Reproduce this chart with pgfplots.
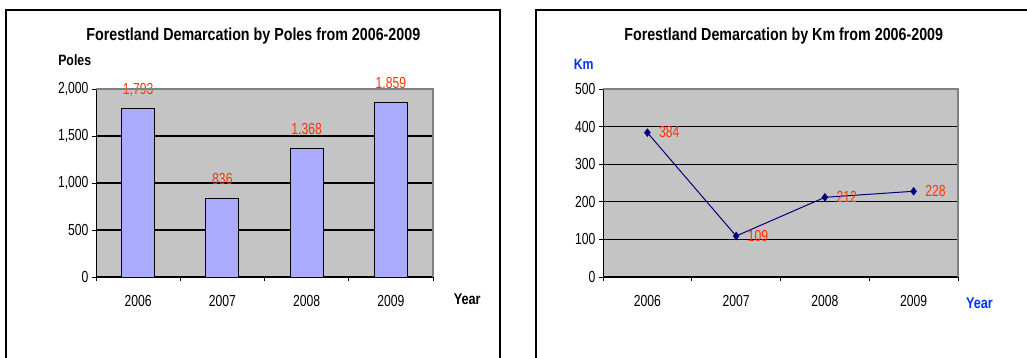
\documentclass[border=0pt]{standalone}
\usepackage{fontspec}
\setmainfont{Liberation Sans}[FakeStretch=0.82]
\newfontfamily\narrowfont{Liberation Sans}[FakeStretch=0.76]
\usepackage{pgfplots}
\pgfplotsset{compat=1.18}
\definecolor{plotgray}{HTML}{C4C4C4}
\definecolor{bordergray}{HTML}{808080}
\definecolor{barblue}{HTML}{AAAAFF}
\definecolor{lblred}{HTML}{FF3300}
\definecolor{navyline}{HTML}{000080}
\definecolor{lblblue}{HTML}{0033FF}
\pgfplotsset{
  myax/.style={
    scale only axis, height=188pt,
    anchor=south west,
    axis background/.style={fill=plotgray},
    axis x line*=bottom, axis y line*=left,
    axis line style={black, line width=1pt},
    ymajorgrids, grid style={black, line width=1.3pt},
    tick align=outside, major tick length=4pt,
    tick style={black, line width=0.8pt},
    ticklabel style={font=\narrowfont\fontsize{16}{19}\selectfont},
    /pgf/number format/assume math mode=true,
    /pgf/number format/1000 sep={,},
    xmin=-0.5, xmax=3.5, ymin=0,
    xtick={-0.5,0.5,1.5,2.5,3.5}, xticklabels={},
    extra x ticks={0,1,2,3},
    extra x tick labels={2006,2007,2008,2009},
    extra x tick style={tick style={draw=none},
      xticklabel style={anchor=base, yshift=-26pt}},
    yticklabel style={anchor=east},
    clip=false,
    after end axis/.code={
      \draw[bordergray, line width=1.5pt] (rel axis cs:0,1) -- (rel axis cs:1,1) -- (rel axis cs:1,0);
    },
  }
}
\begin{document}
\begin{tikzpicture}[x=1pt,y=1pt]
\path[use as bounding box] (0,0) rectangle (1027,358);
\begin{scope}
\clip (0,0) rectangle (1027,358);
\draw[line width=1.3pt] (6,-10) -- (6,348) -- (500,348) -- (500,-10);
\draw[line width=1.3pt] (536,-10) -- (536,348) -- (1040,348);
\end{scope}

\begin{axis}[myax, at={(96pt,81pt)}, width=337pt,
  ymax=2000, ytick={0,500,1000,1500,2000}]
\addplot[ybar, bar width=33pt, fill=barblue, draw=black, line width=0.8pt,
  nodes near coords,
  nodes near coords style={font=\narrowfont\fontsize{16}{19}\selectfont, text=lblred, anchor=base, yshift=14pt}]
  coordinates {(0,1793) (1,836) (2,1368) (3,1859)};
\end{axis}

\begin{axis}[myax, at={(603pt,81pt)}, width=355pt,
  ymax=500, ytick={0,100,200,300,400,500}]
\addplot[navyline, line width=1pt, mark=diamond*, mark size=3.5pt,
  mark options={fill=navyline, draw=navyline},
  nodes near coords,
  nodes near coords style={font=\narrowfont\fontsize{16}{19}\selectfont, text=lblred, anchor=base west, xshift=8pt, yshift=-5pt}]
  coordinates {(0,384) (1,109) (2,212) (3,228)};
\end{axis}

\node[anchor=base, font=\bfseries\fontsize{17.4}{20}\selectfont] at (253.3,317.3) {Forestland Demarcation by Poles from 2006-2009};
\node[anchor=base, font=\bfseries\fontsize{17.4}{20}\selectfont] at (783.7,317.3) {Forestland Demarcation by Km from 2006-2009};
\node[anchor=base, font=\bfseries\fontsize{15}{18}\selectfont] at (74.7,292.3) {Poles};
\node[anchor=base, font=\bfseries\fontsize{15}{18}\selectfont, text=lblblue] at (583.7,288) {Km};
\node[anchor=base, font=\bfseries\fontsize{15.5}{18}\selectfont] at (467.2,53.7) {Year};
\node[anchor=base, font=\bfseries\fontsize{15.5}{18}\selectfont, text=lblblue] at (979.5,49.7) {Year};
\end{tikzpicture}
\end{document}
